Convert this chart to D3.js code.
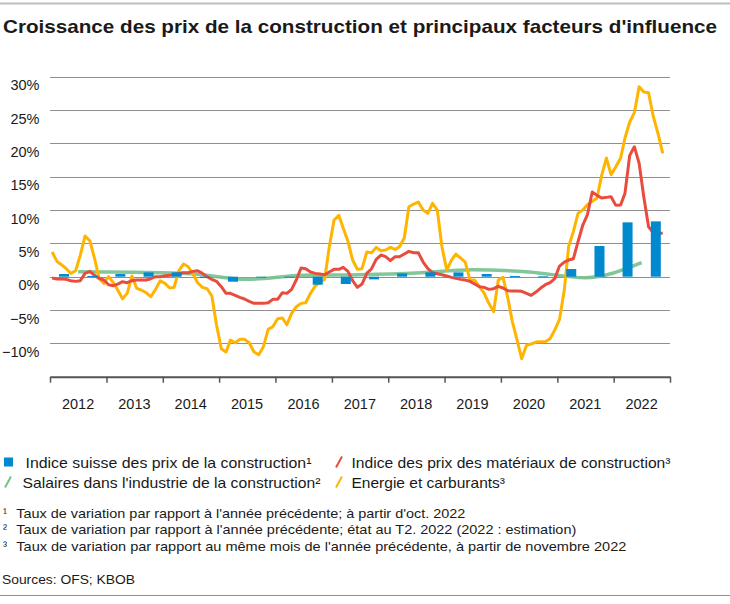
<!DOCTYPE html>
<html><head><meta charset="utf-8">
<script src="https://cdn.jsdelivr.net/npm/d3@7"></script>
<style>
html,body{margin:0;padding:0;background:#fff;}
text{font-family:'Liberation Sans',Arial,sans-serif;fill:#1a1a1a;}
</style></head><body>
<svg id="chart" width="730" height="604"></svg>
<script>
// ---------- DATA ----------
const startYear = 2012;
const yearLabels = [2012,2013,2014,2015,2016,2017,2018,2019,2020,2021,2022];
const yTicks = [-10,-5,0,5,10,15,20,25,30];

// Energie et carburants (monthly, Jan 2012 - Nov 2022, %)
const energie = [
 3.7,2.3,1.8,1.2,0.5,0.9,3.2,6.1,5.4,2.8,
 -0.3,-1.0,0.0,-0.9,-2.0,-3.3,-2.5,0.1,-1.7,-2.0,
 -2.4,-3.0,-1.9,-0.6,-1.0,-1.7,-1.6,0.9,1.9,1.5,
 0.4,-0.9,-1.6,-1.8,-2.9,-7.2,-10.8,-11.3,-9.5,-9.9,
 -9.4,-9.4,-9.9,-11.3,-11.7,-10.5,-7.9,-7.5,-6.3,-6.2,
 -7.2,-5.5,-4.5,-4.0,-3.9,-2.5,-1.4,-0.8,-0.4,4.5,
 8.5,9.2,7.3,5.3,2.5,1.1,1.2,3.7,3.6,4.4,
 3.9,4.0,4.4,4.1,4.5,5.8,10.5,10.9,11.2,10.0,
 9.5,11.0,10.0,4.5,1.0,2.5,3.4,2.8,2.2,-0.5,
 -0.5,-1.5,-2.5,-4.0,-5.25,-0.5,-0.1,-3.2,-6.7,-9.5,
 -12.3,-10.3,-10.1,-9.8,-9.75,-9.75,-9.3,-8.0,-6.4,-2.0,
 4.5,6.8,9.5,10.0,10.8,11.3,11.8,15.2,17.8,15.3,
 16.5,17.8,20.8,23.2,24.6,28.5,27.7,27.6,24.0,21.5,
 18.5
];

// Indice des prix des matériaux de construction (monthly, %)
const materiaux = [
 -0.2,-0.35,-0.35,-0.4,-0.6,-0.7,-0.6,0.5,0.8,0.2,
 -0.25,-0.5,-1.2,-1.35,-1.1,-0.75,-0.9,-0.6,-0.5,-0.5,
 -0.5,-0.3,0.0,0.0,0.15,0.2,0.3,0.5,0.6,0.6,
 0.8,0.9,0.5,0.0,-0.4,-0.7,-1.5,-2.5,-2.5,-2.8,
 -3.1,-3.35,-3.7,-4.0,-4.0,-4.0,-3.9,-3.4,-3.4,-2.4,
 -2.5,-1.9,-0.5,1.3,1.2,0.7,0.5,0.4,0.3,0.7,
 1.1,1.1,1.4,0.8,-0.6,-1.6,-1.1,0.5,1.2,2.6,
 3.25,3.0,2.4,3.0,3.0,3.4,3.8,3.6,3.6,2.2,
 1.2,0.6,0.45,0.3,0.1,-0.1,-0.25,-0.4,-0.5,-0.7,
 -1.1,-1.5,-1.6,-1.9,-1.8,-1.45,-1.7,-2.1,-2.15,-2.15,
 -2.2,-2.5,-2.8,-2.3,-1.7,-1.2,-0.9,-0.3,1.6,2.2,
 2.5,2.7,5.25,7.75,9.3,12.7,12.2,11.8,11.9,12.0,
 10.7,10.75,12.5,18.2,19.5,17.0,12.0,7.5,6.6,6.5,
 6.5
];

// Salaires dans l'industrie de la construction (annual, %)
const salairesYears = [2012,2013,2014,2015,2016,2017,2018,2019,2020,2021,2022];
const salaires = [0.75,0.65,0.45,-0.4,0.2,0.3,0.55,1.05,0.72,-0.15,2.1];

// Indice suisse des prix de la construction (April / October, %)
const indicePeriods = ["2012-04","2012-10","2013-04","2013-10","2014-04","2014-10","2015-04","2015-10",
 "2016-04","2016-10","2017-04","2017-10","2018-04","2018-10","2019-04","2019-10",
 "2020-04","2020-10","2021-04","2021-10","2022-04","2022-10"];
const indice = [0.4,0.1,0.4,0.65,0.65,-0.2,-0.75,-0.1,-0.1,-1.2,-1.1,-0.4,0.5,0.65,0.65,0.4,0.1,0.05,1.15,4.6,8.15,8.3];

const legendItems = [
 {label:"Indice suisse des prix de la construction\u00B9", color:"#0089cf", type:"bar"},
 {label:"Indice des prix des mat\u00E9riaux de construction\u00B3", color:"#e84c3d", type:"line"},
 {label:"Salaires dans l'industrie de la construction\u00B2", color:"#74c18f", type:"line"},
 {label:"Energie et carburants\u00B3", color:"#ffb400", type:"line"}
];
const footnotes = [
 ["\u00B9","Taux de variation par rapport \u00E0 l'ann\u00E9e pr\u00E9c\u00E9dente; \u00E0 partir d'oct. 2022"],
 ["\u00B2","Taux de variation par rapport \u00E0 l'ann\u00E9e pr\u00E9c\u00E9dente; \u00E9tat au T2. 2022 (2022 : estimation)"],
 ["\u00B3","Taux de variation par rapport au m\u00EAme mois de l'ann\u00E9e pr\u00E9c\u00E9dente, \u00E0 partir de novembre 2022"]
];

// ---------- CHART ----------
const svg = d3.select("#chart");
const C = {blue:"#0089cf", red:"#e84c3d", green:"#74c18f", yellow:"#ffb400"};

const x = d3.scaleTime().domain([new Date(2012,0,1), new Date(2023,0,1)]).range([50,670]);
const y = d3.scaleLinear().domain([-15,30]).range([376.7,76.7]);

const monthDate = i => new Date(startYear, i, 15);

// top rule
svg.append("line").attr("x1",0).attr("x2",730).attr("y1",3.5).attr("y2",3.5)
  .attr("stroke","#bdbdbd").attr("stroke-width",2);

// title
svg.append("text").attr("x",3).attr("y",33)
  .attr("font-size",18.5).attr("font-weight","bold")
  .attr("textLength",714).attr("lengthAdjust","spacingAndGlyphs")
  .text("Croissance des prix de la construction et principaux facteurs d'influence");

// gridlines
svg.append("g").selectAll("line").data(yTicks).join("line")
  .attr("x1",50).attr("x2",670)
  .attr("y1",d=>Math.round(y(d))+0.5).attr("y2",d=>Math.round(y(d))+0.5)
  .attr("stroke","#8f8f8f").attr("stroke-width",1);

// y labels
svg.append("g").selectAll("text").data(yTicks).join("text")
  .attr("x",39.5).attr("y",d=>y(d)+13.5)
  .attr("text-anchor","end").attr("font-size",14.5)
  .text(d=>(d<0?"\u2212":"")+Math.abs(d)+"%");

// x axis
const xAxis = d3.axisBottom(x)
  .tickValues(d3.range(2012,2024).map(yy=>new Date(yy,0,1)))
  .tickSize(6).tickSizeOuter(0).tickFormat("");
const gx = svg.append("g").attr("transform",`translate(0,${y(-15)})`).call(xAxis);
gx.select(".domain").attr("stroke","#555").attr("stroke-width",2);
gx.selectAll(".tick line").attr("stroke","#555").attr("stroke-width",1.5);

svg.append("g").selectAll("text").data(yearLabels).join("text")
  .attr("x",d=>x(new Date(d,6,1))).attr("y",408.5)
  .attr("text-anchor","middle").attr("font-size",14.5)
  .text(d=>d);

// lines
const lineM = d3.line().x((d,i)=>x(monthDate(i))).y(d=>y(d));
svg.append("path").datum(salaires)
  .attr("fill","none").attr("stroke",C.green).attr("stroke-width",3.5).attr("stroke-opacity",0.9)
  .attr("d", d3.line().curve(d3.curveMonotoneX)
     .x((d,i)=>x(new Date(salairesYears[i],6,1))).y(d=>y(d)));
svg.append("path").datum(energie)
  .attr("fill","none").attr("stroke",C.yellow).attr("stroke-width",3).attr("stroke-linejoin","round")
  .attr("d",lineM);
svg.append("path").datum(materiaux)
  .attr("fill","none").attr("stroke",C.red).attr("stroke-width",3).attr("stroke-linejoin","round")
  .attr("d",lineM);

// bars
const parseP = d3.timeParse("%Y-%m");
const barW = 10;
svg.append("g").selectAll("rect").data(indice).join("rect")
  .attr("x",(d,i)=>x(parseP(indicePeriods[i]))-barW/2)
  .attr("width",barW)
  .attr("y",d=>Math.min(y(d),y(0)))
  .attr("height",d=>Math.max(1,Math.abs(y(d)-y(0))))
  .attr("fill",C.blue);

// legend
const legPos = [
 {mx:4, tx:25.5, ty:467.5, w:286},
 {mx:335, tx:351.5, ty:467.5, w:319},
 {mx:4, tx:22.5, ty:487.5, w:298},
 {mx:335, tx:351.5, ty:487.5, w:153.5}
];
legendItems.forEach((it,i)=>{
  const p = legPos[i];
  if(it.type==="bar"){
    svg.append("rect").attr("x",p.mx).attr("y",p.ty-10).attr("width",9).attr("height",9).attr("fill",it.color);
  } else {
    svg.append("line").attr("x1",p.mx+1).attr("y1",p.ty).attr("x2",p.mx+7).attr("y2",p.ty-11)
      .attr("stroke",it.color).attr("stroke-width",2);
  }
  svg.append("text").attr("x",p.tx).attr("y",p.ty).attr("font-size",14.5)
    .attr("textLength",p.w).attr("lengthAdjust","spacingAndGlyphs").text(it.label);
});

// footnotes
const fnY = [517.5,534,550.5];
const fnW = [449,560,610];
footnotes.forEach((f,i)=>{
  svg.append("text").attr("x",3).attr("y",fnY[i]-1).attr("font-size",12).text(f[0]);
  svg.append("text").attr("x",16.3).attr("y",fnY[i]).attr("font-size",13.5)
    .attr("textLength",fnW[i]).attr("lengthAdjust","spacingAndGlyphs").text(f[1]);
});

svg.append("text").attr("x",2).attr("y",584).attr("font-size",13.5)
  .attr("textLength",133).attr("lengthAdjust","spacingAndGlyphs").text("Sources: OFS; KBOB");

svg.append("line").attr("x1",0).attr("x2",730).attr("y1",595.5).attr("y2",595.5)
  .attr("stroke","#8f8f8f").attr("stroke-width",1);
</script>
</body></html>
